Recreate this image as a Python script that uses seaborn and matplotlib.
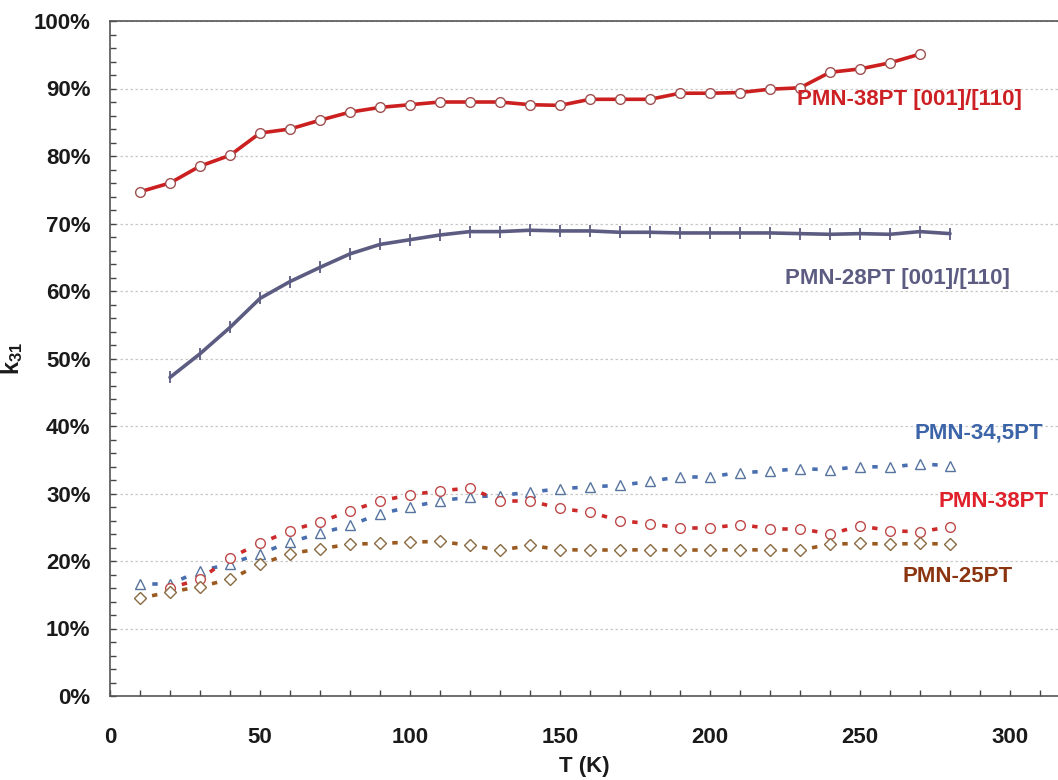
import numpy as np
import pandas as pd
import seaborn as sns
import matplotlib.pyplot as plt
from matplotlib.collections import LineCollection
from matplotlib.ticker import MultipleLocator, PercentFormatter

# temperatures (K)
T_38_oriented = list(range(10, 280, 10))
T_28_oriented = list(range(20, 290, 10))
T_345 = list(range(10, 290, 10))
T_38 = list(range(20, 290, 10))
T_25 = list(range(10, 290, 10))

# k31 in percent
k31_38_oriented = [74.7, 76.0, 78.5, 80.1, 83.4, 84.0, 85.3, 86.5, 87.2, 87.6,
                   88.0, 88.0, 88.0, 87.6, 87.5, 88.4, 88.4, 88.4, 89.3, 89.3,
                   89.4, 89.9, 90.1, 92.4, 92.9, 93.8, 95.1]
k31_28_oriented = [47.2, 50.7, 54.6, 58.9, 61.4, 63.5, 65.5, 66.9, 67.6, 68.3,
                   68.8, 68.8, 69.0, 68.9, 68.9, 68.7, 68.7, 68.6, 68.6, 68.6,
                   68.6, 68.5, 68.4, 68.5, 68.4, 68.8, 68.5]
k31_345 = [16.6, 16.6, 18.5, 19.6, 21.1, 22.8, 24.1, 25.3, 27.0, 28.0,
           28.9, 29.5, 29.7, 30.2, 30.7, 31.0, 31.2, 31.8, 32.5, 32.5,
           33.1, 33.3, 33.7, 33.5, 34.0, 33.9, 34.4, 34.1]
k31_38 = [16.0, 17.3, 20.5, 22.6, 24.5, 25.8, 27.4, 28.9, 29.8, 30.4,
          30.8, 28.9, 28.9, 27.8, 27.2, 26.0, 25.5, 24.9, 24.9, 25.4,
          24.8, 24.8, 24.0, 25.2, 24.5, 24.3, 25.1]
k31_25 = [14.5, 15.4, 16.2, 17.3, 19.5, 21.1, 21.8, 22.5, 22.6, 22.8,
          22.9, 22.3, 21.6, 22.3, 21.7, 21.6, 21.6, 21.7, 21.6, 21.6,
          21.7, 21.6, 21.6, 22.5, 22.6, 22.5, 22.6, 22.5]

sns.set_theme(style="white")
plt.rcParams["font.family"] = ["Liberation Sans", "DejaVu Sans"]
plt.rcParams["mathtext.fontset"] = "custom"
plt.rcParams["mathtext.rm"] = "Liberation Sans"
plt.rcParams["mathtext.bf"] = "Liberation Sans:bold"

fig = plt.figure(figsize=(10.58, 7.8), dpi=100)
ax = fig.add_axes([110 / 1058, 1 - 696 / 780, 1 - 110 / 1058, (696 - 21) / 780])

# solid single-crystal curves
sns.lineplot(x=T_38_oriented, y=k31_38_oriented, ax=ax, color="#cc1f1f", lw=2.6,
             marker="o", markersize=7, markerfacecolor="white",
             markeredgecolor="#a05050", markeredgewidth=1.0, zorder=4)
sns.lineplot(x=T_28_oriented, y=k31_28_oriented, ax=ax, color="#5c5c82", lw=2.6,
             marker="|", markersize=8, markeredgewidth=1.3,
             markeredgecolor="#5c5c82", zorder=4)

# ceramics: markers plus one short dash between neighbouring points
dash = (18.1, (1.5, 20.0))
ceramics = [
    (T_345, k31_345, "^", 7, "#4a6fb0", "#56749e"),
    (T_38, k31_38, "o", 7, "#cc2a2a", "#c04848"),
    (T_25, k31_25, "D", 6, "#9a5a20", "#8a6a40"),
]
for t, k, m, ms, lc, mc in ceramics:
    pts = np.column_stack([t, k])
    segs = np.stack([pts[:-1], pts[1:]], axis=1)
    ax.add_collection(LineCollection(segs, colors=lc, linewidths=2.6,
                                     linestyles=[dash], zorder=2))
    sns.lineplot(x=t, y=k, ax=ax, linestyle="none", marker=m, markersize=ms,
                 markerfacecolor="white", markeredgecolor=mc,
                 markeredgewidth=1.0, zorder=3)

labels = [
    (229, 88.4, "PMN-38PT [001]/[110]", "#cc2024"),
    (225, 61.9, "PMN-28PT [001]/[110]", "#5c5c82"),
    (268, 39.0, "PMN-34,5PT", "#3c64a8"),
    (276, 28.8, "PMN-38PT", "#e0202a"),
    (264, 17.7, "PMN-25PT", "#8b3510"),
]
for x, y, txt, c in labels:
    ax.text(x, y, txt, color=c, fontsize=16, fontweight="bold",
            ha="left", va="center", zorder=5)

ax.set_xlim(0, 316)
ax.set_ylim(0, 100)
ax.xaxis.set_major_locator(MultipleLocator(50))
ax.xaxis.set_minor_locator(MultipleLocator(10))
ax.yaxis.set_major_locator(MultipleLocator(10))
ax.yaxis.set_minor_locator(MultipleLocator(2))
ax.yaxis.set_major_formatter(PercentFormatter(100, decimals=0))

ax.tick_params(axis="both", which="both", direction="in", color="#444444",
               width=1.0, bottom=True, left=True, top=False, right=False)
ax.tick_params(axis="both", which="major", length=4, labelsize=16)
ax.tick_params(axis="both", which="minor", length=4)
ax.tick_params(axis="x", which="major", pad=22)
ax.tick_params(axis="y", which="major", pad=14)
for lab in ax.get_xticklabels() + ax.get_yticklabels():
    lab.set_fontweight("bold")
    lab.set_color("#1a1a1a")

ax.grid(axis="y", which="major", color="#c8c8c8", linestyle=(0, (2, 2)), lw=0.9)
ax.set_axisbelow(True)

for side in ["left", "bottom", "top"]:
    ax.spines[side].set_color("#555555")
    ax.spines[side].set_linewidth(1.2)
ax.spines["right"].set_visible(False)

ax.set_xlabel("T (K)", fontsize=16, fontweight="bold", labelpad=6, color="#1a1a1a")
ax.set_ylabel(r"$\mathbf{k_{31}}$", fontsize=17, labelpad=6, color="#1a1a1a")

fig.savefig("out.png", dpi=100)
